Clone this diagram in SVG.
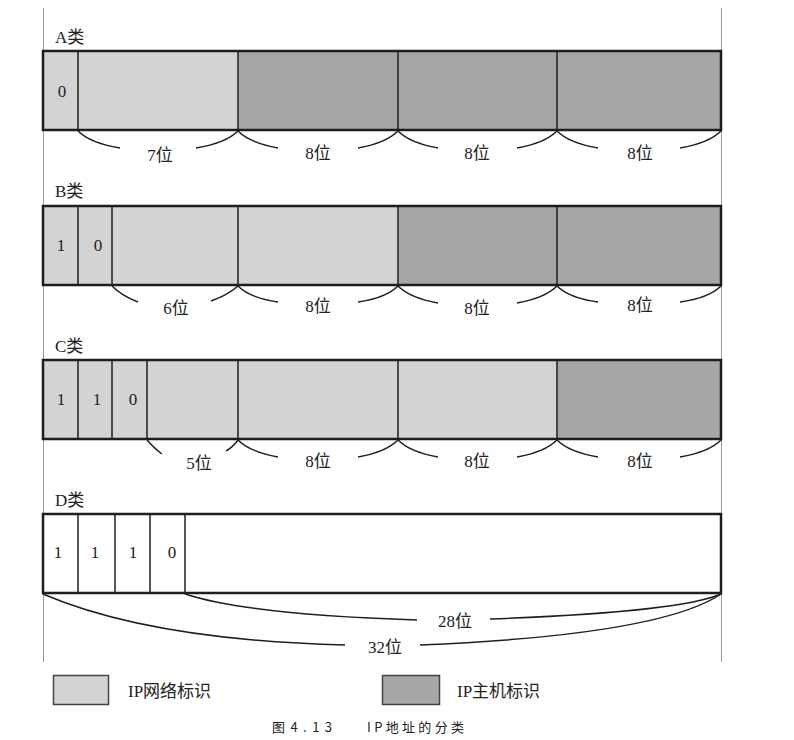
<svg xmlns="http://www.w3.org/2000/svg" width="794" height="740" viewBox="0 0 794 740">
<style>
text.t{font-family:"Liberation Serif","DejaVu Serif","Noto Sans CJK SC",serif;font-size:17px;fill:#222}
.light{fill:#d3d3d3}
.dark{fill:#a6a6a6}
.frame{fill:none;stroke:#1e1e1e;stroke-width:2.5}
.div{stroke:#1e1e1e;stroke-width:1.5}
.br{fill:none;stroke:#1e1e1e;stroke-width:1.5}
.guide{stroke:#999;stroke-width:1}
.cap{font-family:"Noto Sans CJK SC",sans-serif;font-size:13px;fill:#222}
</style>
<rect width="794" height="740" fill="#fff"/>
<g id="guides">
<line class="guide" x1="43.5" y1="8" x2="43.5" y2="662"/>
<line class="guide" x1="721.5" y1="8" x2="721.5" y2="662"/>
</g>
<g id="classA">
<text class="t" x="55" y="43">A类</text>
<rect class="light" x="43" y="51" width="195" height="79"/>
<rect class="dark" x="238" y="51" width="483" height="79"/>
<line class="div" x1="78" y1="51" x2="78" y2="130"/>
<line class="div" x1="238" y1="51" x2="238" y2="130"/>
<line class="div" x1="398" y1="51" x2="398" y2="130"/>
<line class="div" x1="557" y1="51" x2="557" y2="130"/>
<rect class="frame" x="43" y="51" width="678" height="79"/>
<text class="t" x="62" y="97" text-anchor="middle">0</text>
</g>
<g id="classB">
<text class="t" x="55" y="197">B类</text>
<rect class="light" x="43" y="206" width="355" height="79"/>
<rect class="dark" x="398" y="206" width="323" height="79"/>
<line class="div" x1="78" y1="206" x2="78" y2="285"/>
<line class="div" x1="112" y1="206" x2="112" y2="285"/>
<line class="div" x1="238" y1="206" x2="238" y2="285"/>
<line class="div" x1="398" y1="206" x2="398" y2="285"/>
<line class="div" x1="557" y1="206" x2="557" y2="285"/>
<rect class="frame" x="43" y="206" width="678" height="79"/>
<text class="t" x="61" y="251" text-anchor="middle">1</text>
<text class="t" x="98" y="251" text-anchor="middle">0</text>
</g>
<g id="classC">
<text class="t" x="55" y="352">C类</text>
<rect class="light" x="43" y="360" width="514" height="79"/>
<rect class="dark" x="557" y="360" width="164" height="79"/>
<line class="div" x1="78" y1="360" x2="78" y2="439"/>
<line class="div" x1="112" y1="360" x2="112" y2="439"/>
<line class="div" x1="147" y1="360" x2="147" y2="439"/>
<line class="div" x1="238" y1="360" x2="238" y2="439"/>
<line class="div" x1="398" y1="360" x2="398" y2="439"/>
<line class="div" x1="557" y1="360" x2="557" y2="439"/>
<rect class="frame" x="43" y="360" width="678" height="79"/>
<text class="t" x="61" y="405" text-anchor="middle">1</text>
<text class="t" x="97" y="405" text-anchor="middle">1</text>
<text class="t" x="133" y="405" text-anchor="middle">0</text>
</g>
<g id="classD">
<text class="t" x="55" y="506">D类</text>
<rect x="43" y="514" width="678" height="79" fill="#fff"/>
<line class="div" x1="78" y1="514" x2="78" y2="593"/>
<line class="div" x1="115" y1="514" x2="115" y2="593"/>
<line class="div" x1="150" y1="514" x2="150" y2="593"/>
<line class="div" x1="185" y1="514" x2="185" y2="593"/>
<rect class="frame" x="43" y="514" width="678" height="79"/>
<text class="t" x="58" y="558" text-anchor="middle">1</text>
<text class="t" x="95" y="558" text-anchor="middle">1</text>
<text class="t" x="133" y="558" text-anchor="middle">1</text>
<text class="t" x="172" y="558" text-anchor="middle">0</text>
</g>
<g id="connectors">
<path class="br" d="M78,131 Q90,143 120,148 M196,148 Q226,143 238,131"/>
<path class="br" d="M238,131 Q250,143 278,148 M358,148 Q386,143 398,131"/>
<path class="br" d="M398,131 Q410,143 438,148 M517,148 Q545,143 557,131"/>
<path class="br" d="M557,131 Q569,143 598,148 M680,148 Q709,143 721,131"/>
<path class="br" d="M112,286 Q122,296 138,302 M211,301 Q228,295 238,286"/>
<path class="br" d="M238,286 Q250,298 278,302 M358,302 Q386,298 398,286"/>
<path class="br" d="M398,286 Q410,298 438,303 M517,303 Q545,298 557,286"/>
<path class="br" d="M557,286 Q569,298 598,302 M680,302 Q709,298 721,286"/>
<path class="br" d="M147,440 Q155,449 162,454 M226,451 Q233,447 238,440"/>
<path class="br" d="M238,440 Q250,452 278,457 M358,457 Q386,452 398,440"/>
<path class="br" d="M398,440 Q410,452 438,457 M517,457 Q545,452 557,440"/>
<path class="br" d="M557,440 Q569,452 598,457 M680,457 Q709,452 721,440"/>
<path class="br" d="M185,594 Q250,615 417,620 M490,619 Q680,612 721,594"/>
<path class="br" d="M43,594 Q150,640 345,645 M420,645 Q660,635 721,594"/>
</g>
<g id="labels">
<text class="t" x="160" y="161" text-anchor="middle">7位</text>
<text class="t" x="318" y="159" text-anchor="middle">8位</text>
<text class="t" x="477" y="159" text-anchor="middle">8位</text>
<text class="t" x="640" y="159" text-anchor="middle">8位</text>
<text class="t" x="176" y="314" text-anchor="middle">6位</text>
<text class="t" x="318" y="312" text-anchor="middle">8位</text>
<text class="t" x="477" y="314" text-anchor="middle">8位</text>
<text class="t" x="640" y="311" text-anchor="middle">8位</text>
<text class="t" x="199" y="469" text-anchor="middle">5位</text>
<text class="t" x="318" y="467" text-anchor="middle">8位</text>
<text class="t" x="477" y="467" text-anchor="middle">8位</text>
<text class="t" x="640" y="467" text-anchor="middle">8位</text>
<text class="t" x="455" y="627" text-anchor="middle">28位</text>
<text class="t" x="385" y="653" text-anchor="middle">32位</text>
</g>
<g id="legend">
<rect x="53.5" y="675.5" width="55" height="29" fill="#d3d3d3" stroke="#444" stroke-width="1.5"/>
<text class="t" x="128" y="697">IP网络标识</text>
<rect x="382.5" y="675.5" width="57" height="29" fill="#a6a6a6" stroke="#444" stroke-width="1.5"/>
<text class="t" x="457" y="697">IP主机标识</text>
</g>
<g id="caption">
<text class="cap" x="272" y="732" textLength="60" lengthAdjust="spacing">图4.13</text>
<text class="cap" x="367" y="732" textLength="97" lengthAdjust="spacing">IP地址的分类</text>
</g>
</svg>
